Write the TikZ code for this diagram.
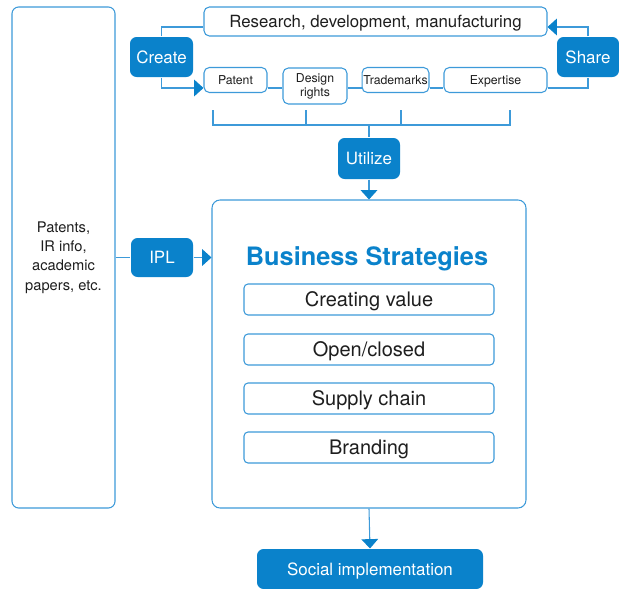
\documentclass[tikz,border=0pt]{standalone}
\usepackage{fontspec}
\setmainfont{TeX Gyre Heros}
\usetikzlibrary{arrows.meta,positioning}
\definecolor{ipBlue}{HTML}{0A82CB}
\definecolor{ipLine}{HTML}{3D9AD9}
\definecolor{ipText}{HTML}{1E1E1E}

\begin{document}
\begin{tikzpicture}[x=0.75pt,y=-0.75pt,line width=0.8pt,
  wbox/.style={draw=ipLine,fill=white,rounded corners=4pt,text=ipText,inner sep=1pt,align=center},
  bbox/.style={fill=ipBlue,rounded corners=5pt,text=white,font=\fontsize{12.7}{14}\selectfont,inner sep=1pt,text depth=0pt},
  tag/.style={wbox,font=\fontsize{9.2}{10.5}\selectfont,minimum height=18.75pt},
  strat/.style={wbox,font=\fontsize{15}{17}\selectfont,minimum width=187.5pt,minimum height=23.25pt,rounded corners=3pt,text depth=0pt},
  link/.style={draw=ipLine},
  tip/.style={-{Triangle[length=7pt,width=12.5pt,color=ipBlue]}}]
\useasboundingbox (0,0) rectangle (619,589);
% sources on the left
\node[wbox,minimum width=77.25pt,minimum height=375.75pt,rounded corners=5pt,font=\fontsize{11}{14.6}\selectfont] (src) at (63.5,257.5) {Patents,\\IR info,\\academic\\papers, etc.};
% top cycle
\node[wbox,minimum width=257.25pt,minimum height=21.75pt,font=\fontsize{12.6}{14}\selectfont,text depth=0pt] (rdm) at (375.5,21.5) {Research, development, manufacturing};
\node[bbox,minimum width=47.25pt,minimum height=30pt] (create) at (161.5,57) {Create};
\node[bbox,minimum width=46.5pt,minimum height=30pt] (share) at (588,57) {Share};
\node[tag,minimum width=47.25pt,text depth=0pt] (patent) at (235.5,80) {Patent};
\node[tag,minimum width=48pt,minimum height=27pt] (design) at (315,86) {Design\\rights};
\node[tag,minimum width=47.25pt,text depth=0pt] (trade) at (395.5,80) {Trademarks};
\node[tag,minimum width=77.25pt,text depth=0pt] (expert) at (495.5,80) {Expertise};
\node[bbox,minimum width=46.5pt,minimum height=30.75pt] (utilize) at (369,158.5) {Utilize};
% strategies
\node[wbox,minimum width=235.5pt,minimum height=231pt,rounded corners=6pt] (biz) at (369,354) {};
\node[font=\bfseries\fontsize{19}{22}\selectfont,text=ipBlue,text depth=0pt] (title) at (367,256) {Business Strategies};
\node[strat] (value) at (369,299.5) {Creating value};
\node[strat] (open) at (369,349.5) {Open/closed};
\node[strat] (supply) at (369,398.5) {Supply chain};
\node[strat] (brand) at (369,447.5) {Branding};
\node[bbox,minimum width=46.5pt,minimum height=29.25pt] (ipl) at (162,257.5) {IPL};
\node[bbox,minimum width=169.5pt,minimum height=30pt] (social) at (370,569) {Social implementation};
% helper coordinates
\coordinate (topy) at (0,27);
\coordinate (rowy) at (0,88);
\coordinate (brby) at (0,125);
\coordinate (b1) at (213,110);
\coordinate (b2) at (306,110);
\coordinate (b3) at (401,110);
\coordinate (b4) at (510,110);
% connectors
\draw[link] (create.north) |- (rdm.west |- topy);
\draw[link,tip] (create.south) |- (patent.west |- rowy);
\draw[link] (patent.east |- rowy) -- (design.west |- rowy);
\draw[link] (design.east |- rowy) -- (trade.west |- rowy);
\draw[link] (trade.east |- rowy) -- (expert.west |- rowy);
\draw[link] (expert.east |- rowy) -| (share.south);
\draw[link,tip] (share.north) |- (rdm.east |- topy);
\draw[link] (b1) |- (b4 |- brby) -- (b4);
\draw[link] (b2) -- (b2 |- brby);
\draw[link] (b3) -- (b3 |- brby);
\draw[link] (utilize.north |- brby) -- (utilize.north);
\draw[link,tip] (utilize.south) -- (biz.north);
\draw[link] (src.east) -- (ipl.west);
\draw[link,tip] (ipl.east) -- (biz.west |- ipl);
\draw[link,tip] (biz.south) -- (social.north);
\end{tikzpicture}
\end{document}
